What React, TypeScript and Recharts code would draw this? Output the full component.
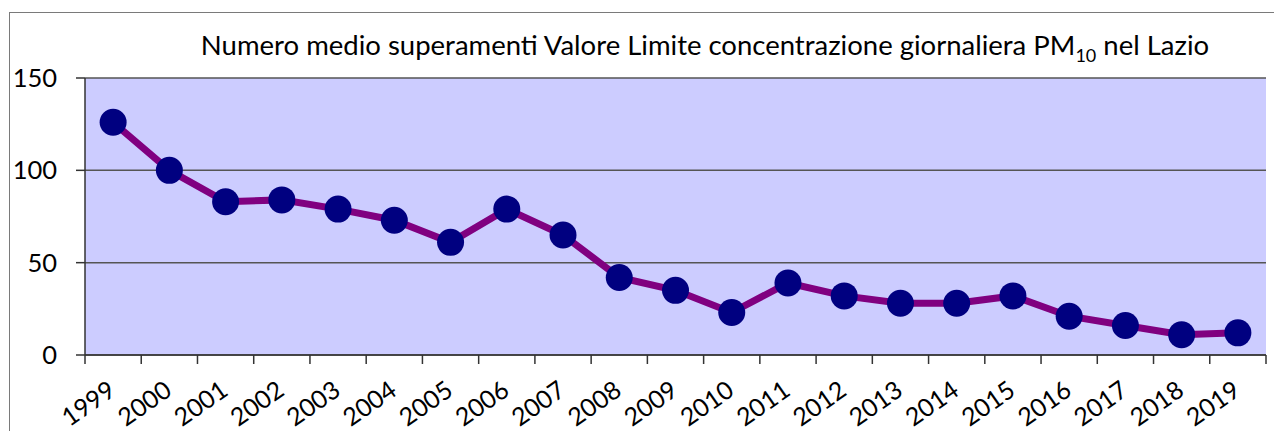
import { LineChart, Line, CartesianGrid, XAxis, YAxis } from "recharts";

const years = [
  "1999", "2000", "2001", "2002", "2003", "2004", "2005", "2006", "2007", "2008",
  "2009", "2010", "2011", "2012", "2013", "2014", "2015", "2016", "2017", "2018", "2019",
];
const superamenti = [126, 100, 83, 84, 79, 73, 61, 79, 65, 42, 35, 23, 39, 32, 28, 28, 32, 21, 16, 11, 12];
const yTicks = [0, 50, 100, 150];

const data = years.map((year, i) => ({ year, value: superamenti[i] }));

const W = 1274;
const H = 423;
const PLOT_LEFT = 77;
const PLOT_RIGHT = 1258;
const BAND = (PLOT_RIGHT - PLOT_LEFT) / years.length;
const FONT = "Lato, 'Open Sans', sans-serif";

function YearTick(props: any) {
  const { x, y, payload, index } = props;
  const last = index === years.length - 1;
  const ax = x + 4;
  const ay = y + 39;
  return (
    <g>
      <line x1={x - BAND / 2} x2={x - BAND / 2} y1={y} y2={y + 9} stroke="#333" strokeWidth={1.5} />
      {last && <line x1={x + BAND / 2} x2={x + BAND / 2} y1={y} y2={y + 9} stroke="#333" strokeWidth={1.5} />}
      <text
        x={ax}
        y={ay}
        textAnchor="end"
        fill="#000"
        fontSize={25}
        fontFamily={FONT}
        transform={`rotate(-35, ${ax}, ${ay})`}
      >
        {payload.value}
      </text>
    </g>
  );
}

export default function App() {
  return (
    <div style={{ position: "relative", width: W, height: H, overflow: "hidden", fontFamily: FONT }}>
      <div
        style={{
          position: "absolute",
          left: 1,
          top: 4,
          width: 1300,
          height: 460,
          border: "1.5px solid #7a7a7a",
        }}
      />
      <div
        style={{
          position: "absolute",
          left: 0,
          width: 1394,
          top: 20,
          textAlign: "center",
          fontSize: 27.5,
          lineHeight: "34px",
          color: "#000",
          whiteSpace: "nowrap",
        }}
      >
        Numero medio superamenti Valore Limite concentrazione giornaliera PM
        <sub style={{ fontSize: 18, lineHeight: 0 }}>10</sub> nel Lazio
      </div>
      <LineChart
        width={W}
        height={H}
        data={data}
        margin={{ top: 70, right: W - PLOT_RIGHT, bottom: 0, left: 0 }}
        style={{ position: "absolute", left: 0, top: 0 }}
      >
        <CartesianGrid
          horizontal
          vertical={false}
          stroke="#555"
          strokeWidth={1.5}
          fill="#ccccff"
          fillOpacity={1}
        />
        <XAxis
          dataKey="year"
          height={76}
          interval={0}
          padding={{ left: BAND / 2, right: BAND / 2 }}
          tickLine={false}
          tickSize={0}
          tickMargin={0}
          axisLine={{ stroke: "#333", strokeWidth: 1.5 }}
          tick={<YearTick />}
        />
        <YAxis
          width={PLOT_LEFT}
          domain={[0, 150]}
          ticks={yTicks}
          tickSize={9}
          tickMargin={19}
          tickLine={{ stroke: "#333", strokeWidth: 1.5 }}
          axisLine={{ stroke: "#333", strokeWidth: 1.5 }}
          tick={{ fill: "#000", fontSize: 25.5, fontFamily: FONT }}
        />
        <Line
          dataKey="value"
          stroke="#800080"
          strokeWidth={7}
          dot={{ r: 13.5, fill: "#000080", stroke: "none" }}
          activeDot={false}
          isAnimationActive={false}
        />
      </LineChart>
    </div>
  );
}
